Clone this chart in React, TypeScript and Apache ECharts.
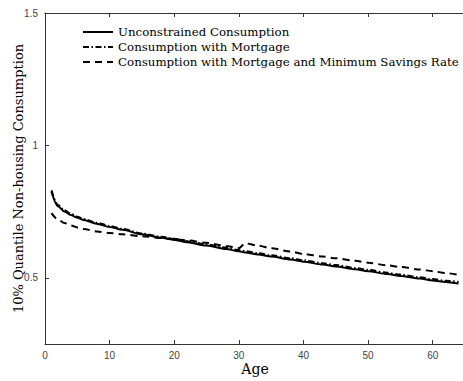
import React, { useEffect, useRef } from "react";
import * as echarts from "echarts";

const ages = [1, 2, 3, 4, 5, 6, 8, 10, 12, 15, 18, 20, 22, 25, 28, 30, 31, 33, 35, 38, 40, 43, 45, 48, 50, 53, 55, 58, 60, 62, 64];
const unconstrained = [0.825, 0.77, 0.75, 0.737, 0.727, 0.718, 0.704, 0.692, 0.681, 0.664, 0.651, 0.643, 0.634, 0.622, 0.609, 0.6, 0.596, 0.588, 0.58, 0.569, 0.561, 0.55, 0.543, 0.532, 0.525, 0.514, 0.507, 0.497, 0.49, 0.484, 0.478];
const withMortgage = [0.83, 0.775, 0.755, 0.742, 0.731, 0.722, 0.708, 0.696, 0.685, 0.667, 0.655, 0.647, 0.638, 0.626, 0.614, 0.605, 0.601, 0.593, 0.585, 0.574, 0.566, 0.555, 0.548, 0.537, 0.53, 0.519, 0.512, 0.502, 0.495, 0.489, 0.484];
const withMinSavings = [0.744, 0.72, 0.707, 0.698, 0.69, 0.684, 0.675, 0.669, 0.664, 0.657, 0.65, 0.646, 0.641, 0.632, 0.62, 0.612, 0.63, 0.621, 0.612, 0.599, 0.59, 0.58, 0.574, 0.564, 0.557, 0.547, 0.541, 0.531, 0.525, 0.518, 0.511];
const seriesNames = [
  "Unconstrained Consumption",
  "Consumption with Mortgage",
  "Consumption with Mortgage and Minimum Savings Rate",
];
const xTitle = "Age";
const yTitle = "10% Quantile Non-housing Consumption";

const serif = "'DejaVu Serif', serif";
const sans = "'Liberation Sans', Arial, sans-serif";
const axisColor = "#333333";

export default function App() {
  const ref = useRef<HTMLDivElement>(null);
  useEffect(() => {
    if (!ref.current) return;
    const chart = echarts.init(ref.current, undefined, { renderer: "svg" });
    const pair = (ys: number[]) => ages.map((a, i) => [a, ys[i]]);
    const lineBase = {
      type: "line",
      showSymbol: false,
      symbol: "none",
      smooth: 0.3,
      smoothMonotone: "x",
      itemStyle: { color: "#000" },
    };
    chart.setOption({
      animation: false,
      backgroundColor: "#ffffff",
      grid: {
        left: 45,
        right: -2,
        top: 13,
        bottom: 37,
        containLabel: false,
        outerBoundsMode: "none",
      },
      graphic: [
        {
          type: "line",
          shape: { x1: 45, y1: 13.5, x2: 463, y2: 13.5 },
          style: { stroke: axisColor, lineWidth: 1 },
          z: 10,
        },
      ],
      legend: {
        orient: "vertical",
        left: 77,
        top: 21,
        padding: 5,
        itemWidth: 30,
        itemHeight: 13,
        itemGap: 3,
        data: seriesNames,
        itemStyle: { opacity: 0 },
        textStyle: { fontFamily: serif, fontSize: 11.8, color: "#000" },
      },
      xAxis: [
        {
          type: "value",
          min: 0,
          max: 65,
          interval: 10,
          name: xTitle,
          nameLocation: "middle",
          nameGap: 18,
          nameMoveOverlap: false,
          nameTextStyle: { fontFamily: serif, fontSize: 14, color: "#000" },
          axisLine: { show: true, onZero: false, lineStyle: { color: axisColor, width: 1 } },
          axisTick: { show: true, inside: true, length: 4, lineStyle: { color: axisColor } },
          axisLabel: { show: true, margin: 6, fontFamily: sans, fontSize: 10, color: "#444", showMaxLabel: false },
          splitLine: { show: false },
        },
        {
          type: "value",
          position: "top",
          gridIndex: 0,
          min: 0,
          max: 65,
          interval: 10,
          axisLine: { show: true, onZero: false, lineStyle: { color: axisColor, width: 1 } },
          axisTick: { show: true, inside: true, length: 4, lineStyle: { color: axisColor, width: 1 } },
          axisLabel: { show: false },
          splitLine: { show: false },
        },
      ],
      yAxis: {
        type: "value",
        min: 0.25,
        max: 1.5,
        interval: 0.25,
        name: yTitle,
        nameLocation: "middle",
        nameGap: 20,
        nameMoveOverlap: false,
        nameTextStyle: { fontFamily: serif, fontSize: 13, color: "#000" },
        axisLine: { show: true, onZero: false, lineStyle: { color: axisColor, width: 1 } },
        axisTick: {
          show: true,
          inside: true,
          length: 4,
          lineStyle: { color: axisColor },
          customValues: [0.5, 1, 1.5],
        },
        axisLabel: {
          show: true,
          margin: 7,
          fontFamily: sans,
          fontSize: 10,
          color: "#444",
          customValues: [0.5, 1, 1.5],
          formatter: (v: number) => String(v),
        },
        splitLine: { show: false },
      },
      series: [
        {
          ...lineBase,
          name: seriesNames[0],
          xAxisIndex: 0,
          data: pair(unconstrained),
          lineStyle: { color: "#000", width: 2, type: "solid" },
        },
        {
          ...lineBase,
          name: seriesNames[1],
          xAxisIndex: 0,
          data: pair(withMortgage),
          lineStyle: { color: "#000", width: 2, type: [6, 2.5, 1.5, 2.5] },
        },
        {
          ...lineBase,
          name: seriesNames[2],
          xAxisIndex: 0,
          data: pair(withMinSavings),
          lineStyle: { color: "#000", width: 2, type: [7, 5] },
        },
      ],
    });
    return () => chart.dispose();
  }, []);
  return <div ref={ref} style={{ width: 463, height: 381, position: "absolute", left: 0, top: 0 }} />;
}
